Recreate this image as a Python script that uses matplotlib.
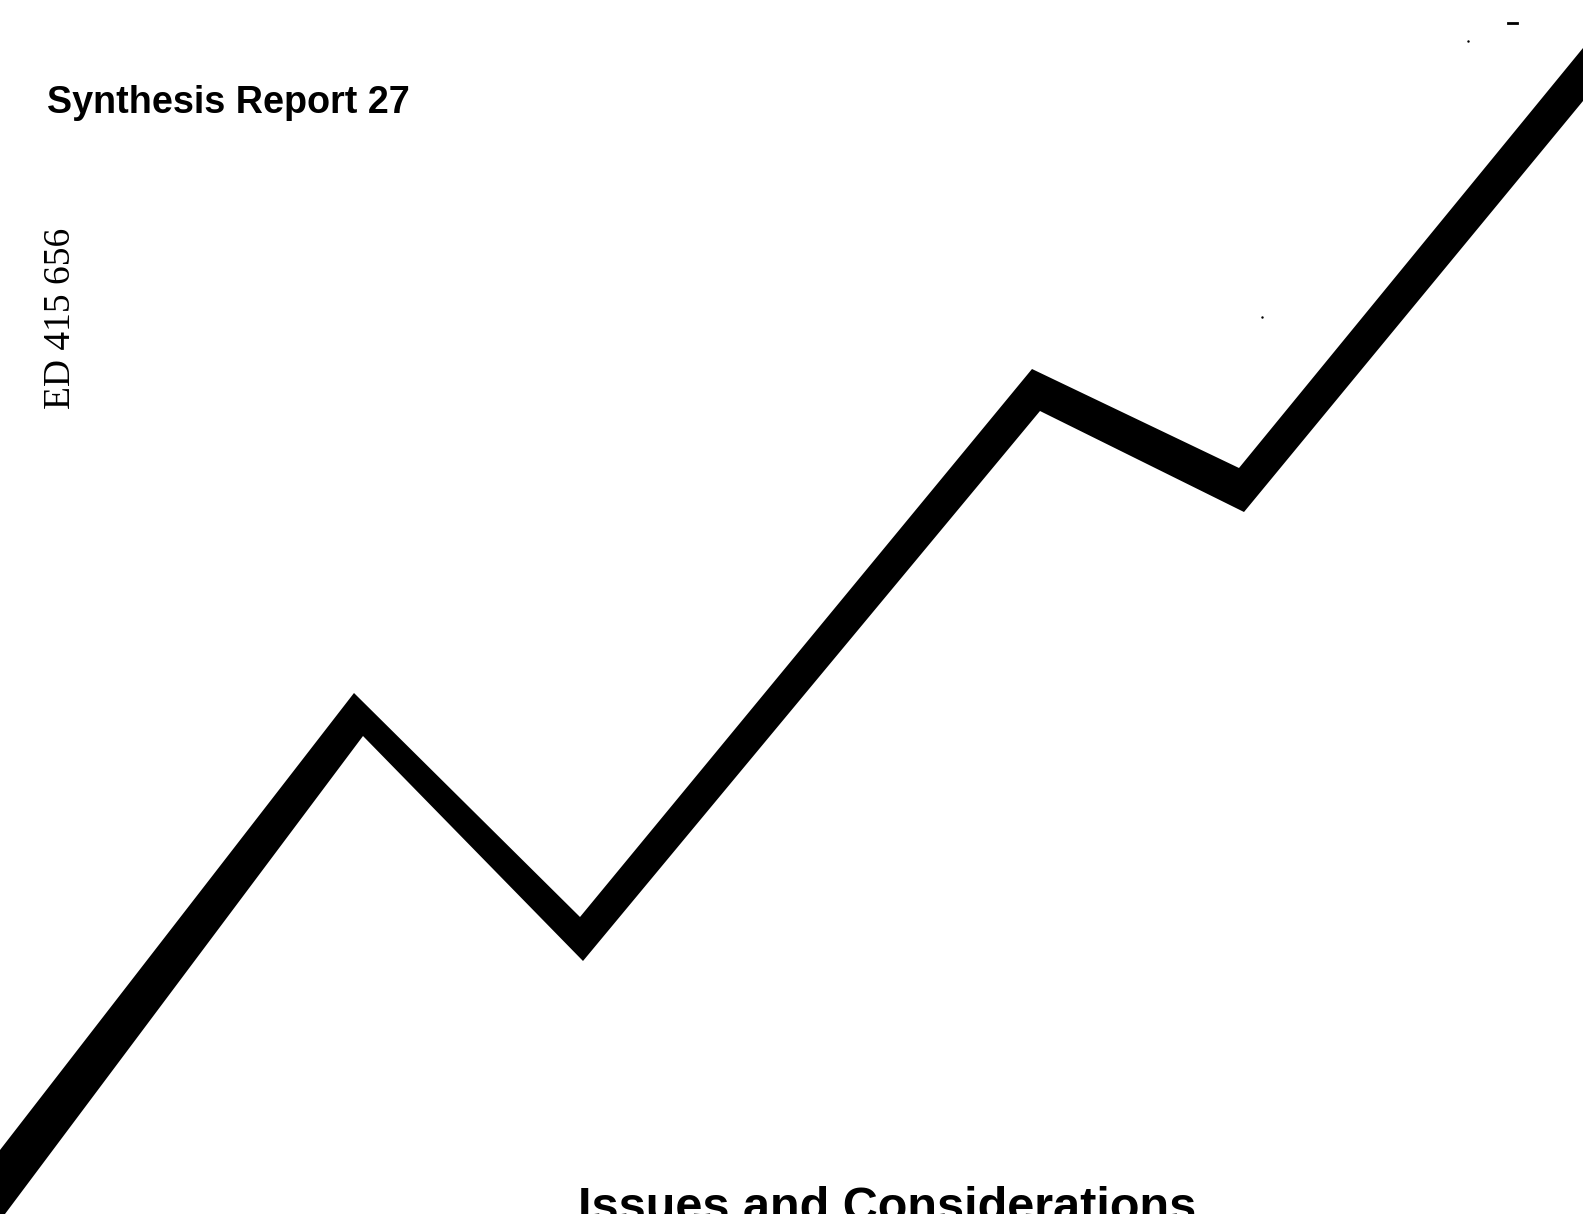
import numpy as np
import matplotlib.pyplot as plt

# zigzag band, page pixel coordinates (y grows downward)
upper_x = [0, 354, 580, 1032, 1239, 1583]
upper_y = [1150, 693, 917, 369, 468, 48]
lower_x = [5, 363, 583, 1040, 1244, 1583]
lower_y = [1214, 736, 961, 411, 512, 101]

title = "Synthesis Report 27"
doc_id = "ED 415 656"
subtitle = "Issues and Considerations"

W, H = 1583, 1214
fig = plt.figure(figsize=(W / 100, H / 100), dpi=100)
ax = fig.add_axes([0, 0, 1, 1])
ax.set_xlim(0, W)
ax.set_ylim(H, 0)
ax.axis('off')

px = np.concatenate([upper_x, lower_x[::-1], [0]])
py = np.concatenate([upper_y, lower_y[::-1], [H]])
ax.fill(px, py, color='black', lw=0)

# scanner specks
ax.plot([1508, 1517], [23, 23], color='black', lw=2)
ax.plot([1468, 1262], [41, 317], 'k.', ms=1.5, lw=0)

ax.text(47, 103, title, fontsize=27.2, fontweight='bold',
        family='Liberation Sans', va='center', ha='left')
ax.text(61, 318, doc_id, fontsize=27, family='Liberation Serif',
        rotation=90, va='center', ha='center')
ax.text(578, 1186, subtitle, fontsize=35, fontweight='bold',
        family='Liberation Sans', va='top', ha='left')

fig.savefig('out.png', dpi=100)
